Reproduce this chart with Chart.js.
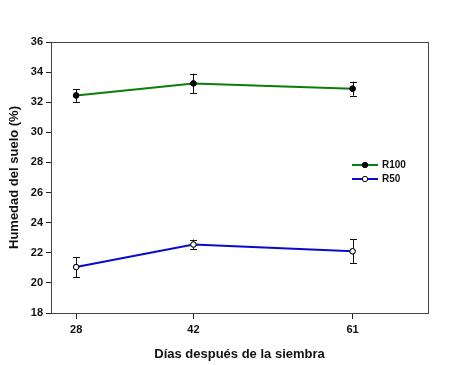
<!DOCTYPE html>
<html><head><meta charset="utf-8">
<script src="https://cdn.jsdelivr.net/npm/chart.js@4/dist/chart.umd.min.js"></script>
<style>html,body{margin:0;padding:0;background:#fff}</style></head>
<body>
<canvas id="c" width="450" height="365"></canvas>
<script>
const days = [28, 42, 61];
const xTickValues = [28, 42, 61];
const yTickValues = [18, 20, 22, 24, 26, 28, 30, 32, 34, 36];
const seriesNames = ['R100', 'R50'];
const r100 = [32.45, 33.25, 32.9];
const r100Err = [0.43, 0.65, 0.47];
const r50 = [21.05, 22.55, 22.1];
const r50Err = [0.65, 0.33, 0.8];

const FONT = '"Liberation Sans", Arial, sans-serif';

const errorBars = {
  id: 'errorBars',
  afterDatasetsDraw(chart) {
    const ctx = chart.ctx, xs = chart.scales.x, ys = chart.scales.y;
    ctx.save();
    ctx.strokeStyle = '#111';
    ctx.lineWidth = 1;
    chart.data.datasets.forEach(ds => {
      ds.data.forEach((p, i) => {
        const e = ds.errors[i];
        const px = Math.round(xs.getPixelForValue(p.x)) + 0.5;
        const yt = ys.getPixelForValue(p.y + e), yb = ys.getPixelForValue(p.y - e);
        ctx.beginPath();
        ctx.moveTo(px, yt); ctx.lineTo(px, yb);
        ctx.moveTo(px - 3.5, Math.round(yt) + 0.5); ctx.lineTo(px + 3.5, Math.round(yt) + 0.5);
        ctx.moveTo(px - 3.5, Math.round(yb) + 0.5); ctx.lineTo(px + 3.5, Math.round(yb) + 0.5);
        ctx.stroke();
      });
    });
    chart.data.datasets.forEach((ds, di) => {
      const meta = chart.getDatasetMeta(di);
      meta.data.forEach(el => el.draw(ctx, chart.chartArea));
    });
    const a = chart.chartArea;
    ctx.strokeStyle = '#444';
    ctx.lineWidth = 1;
    ctx.strokeRect(Math.round(a.left) + 0.5, Math.round(a.top) + 0.5, Math.round(a.right - a.left), Math.round(a.bottom - a.top));
    ctx.font = 'bold 10px ' + FONT;
    ctx.textBaseline = 'middle';
    ctx.textAlign = 'left';
    chart.data.datasets.forEach((ds, di) => {
      const ly = 165 + di * 14;
      ctx.strokeStyle = ds.borderColor;
      ctx.lineWidth = 2;
      ctx.beginPath(); ctx.moveTo(352, ly); ctx.lineTo(378, ly); ctx.stroke();
      ctx.beginPath(); ctx.arc(365, ly, 2.7, 0, Math.PI * 2);
      ctx.fillStyle = ds.pointBackgroundColor; ctx.fill();
      ctx.lineWidth = 1; ctx.strokeStyle = '#000'; ctx.stroke();
      ctx.fillStyle = '#111';
      ctx.fillText(ds.label, 382, ly + 0.5);
    });
    ctx.restore();
  }
};

const mk = (xs, ys) => xs.map((x, i) => ({x, y: ys[i]}));

new Chart(document.getElementById('c'), {
  type: 'line',
  data: {
    datasets: [
      {label: seriesNames[0], data: mk(days, r100), errors: r100Err, borderColor: '#0a7d0a', borderWidth: 2,
       pointBackgroundColor: '#000', pointBorderColor: '#000', pointBorderWidth: 1, pointRadius: 2.7},
      {label: seriesNames[1], data: mk(days, r50), errors: r50Err, borderColor: '#0a0acc', borderWidth: 2,
       pointBackgroundColor: '#fff', pointBorderColor: '#000', pointBorderWidth: 1, pointRadius: 2.7}
    ]
  },
  options: {
    responsive: false,
    animation: false,
    layout: {padding: {top: 42, right: 22, left: 0, bottom: 0}},
    plugins: {legend: {display: false}, tooltip: {enabled: false}},
    scales: {
      x: {
        type: 'linear', min: 25, max: 70,
        afterBuildTicks: s => { s.ticks = xTickValues.map(v => ({value: v})); },
        afterFit: s => { s.height = 52; },
        grid: {drawOnChartArea: false, drawTicks: true, tickLength: 6, color: '#222'},
        border: {color: '#444', width: 1},
        ticks: {color: '#111', font: {family: FONT, size: 11, weight: 'bold'}, padding: 4, maxRotation: 0},
        title: {display: true, text: 'Días después de la siembra', color: '#111',
                font: {family: FONT, size: 13, weight: 'bold'}, padding: {top: 0, bottom: 3}}
      },
      y: {
        min: 18, max: 36,
        afterBuildTicks: s => { s.ticks = yTickValues.map(v => ({value: v})); },
        afterFit: s => { s.width = 51; },
        grid: {drawOnChartArea: false, drawTicks: true, tickLength: 5, color: '#222'},
        border: {color: '#444', width: 1},
        ticks: {color: '#111', font: {family: FONT, size: 11, weight: 'bold'}, padding: 3},
        title: {display: true, text: 'Humedad del suelo (%)', color: '#111',
                font: {family: FONT, size: 13, weight: 'bold'}, padding: {top: 7, bottom: 0}}
      }
    }
  },
  plugins: [errorBars]
});
</script>
</body></html>
